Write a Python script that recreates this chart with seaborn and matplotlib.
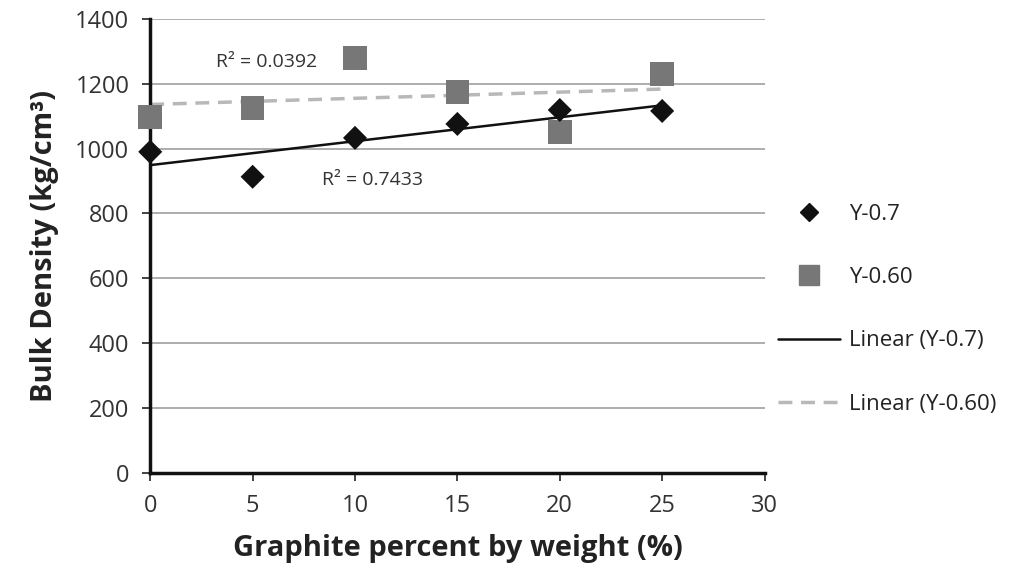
import numpy as np
import pandas as pd
import seaborn as sns
import matplotlib.pyplot as plt
from matplotlib.lines import Line2D

# graphite content (%) and bulk density readings for the two mixes
graphite = [0, 5, 10, 15, 20, 25]
density_y07 = [990, 913, 1033, 1076, 1119, 1116]
density_y060 = [1098, 1125, 1280, 1175, 1051, 1230]
# R² labels as printed on the original chart
r2_labels = {"Y-0.7": "R² = 0.7433", "Y-0.60": "R² = 0.0392"}

sns.set_theme(style="white")
plt.rcParams["font.family"] = ["Open Sans", "DejaVu Sans"]

df = pd.DataFrame({
    "graphite": graphite * 2,
    "density": density_y07 + density_y060,
    "series": ["Y-0.7"] * len(graphite) + ["Y-0.60"] * len(graphite),
})

fig = plt.figure(figsize=(10.29, 5.73), dpi=100)
ax = fig.add_axes([0.146, 0.175, 0.597, 0.792])

for y in range(200, 1401, 200):
    ax.axhline(y, color="#a0a0a0", lw=1.2, zorder=0)

# linear trend lines
fit07 = np.polyval(np.polyfit(graphite, density_y07, 1), graphite)
fit060 = np.polyval(np.polyfit(graphite, density_y060, 1), graphite)

sns.lineplot(x=graphite, y=fit060, ax=ax, color="#b8b8b8", lw=2.5,
             linestyle=(0, (4, 2.5)), zorder=2)
sns.lineplot(x=graphite, y=fit07, ax=ax, color="#111111", lw=1.8, zorder=2)

sns.scatterplot(data=df[df.series == "Y-0.60"], x="graphite", y="density",
                marker="s", s=290, color="#777777", edgecolor="none", ax=ax, zorder=3)
sns.scatterplot(data=df[df.series == "Y-0.7"], x="graphite", y="density",
                marker="D", s=150, color="#111111", edgecolor="none", ax=ax, zorder=4)
for coll in ax.collections:
    coll.set_clip_on(False)

ax.text(3.2, 1268, r2_labels["Y-0.60"], fontsize=14, color="#333333", va="center")
ax.text(8.4, 903, r2_labels["Y-0.7"], fontsize=14, color="#333333", va="center")

ax.set_xlim(0, 30)
ax.set_ylim(0, 1400)
ax.set_xticks(range(0, 31, 5))
ax.set_yticks(range(0, 1401, 200))
ax.tick_params(axis="both", labelsize=17, colors="#222222", length=6, width=1.2,
               direction="out", bottom=True, left=True, pad=9)
ax.tick_params(axis="both", labelcolor="#333333")
for s in ["top", "right"]:
    ax.spines[s].set_visible(False)
for s in ["left", "bottom"]:
    ax.spines[s].set_color("#111111")
    ax.spines[s].set_linewidth(2.5)
ax.set_xlabel("Graphite percent by weight (%)", fontsize=21, fontweight="bold",
              color="#222222", labelpad=12)
ax.set_ylabel("Bulk Density (kg/cm³)", fontsize=21, fontweight="bold",
              color="#222222", labelpad=12)

handles = [
    Line2D([], [], marker="D", color="#111111", ls="none", markersize=9),
    Line2D([], [], marker="s", color="#777777", ls="none", markersize=14),
    Line2D([], [], color="#111111", lw=1.8),
    Line2D([], [], color="#b8b8b8", lw=2.5, ls=(0, (4, 2.5))),
]
labels = ["Y-0.7", "Y-0.60", "Linear (Y-0.7)", "Linear (Y-0.60)"]
ax.legend(handles, labels, loc="center left", bbox_to_anchor=(1.0, 0.36),
          frameon=False, fontsize=16, labelspacing=1.9, handlelength=2.8,
          handletextpad=0.4, labelcolor="#222222", borderaxespad=0.2)

fig.savefig("out.png", dpi=100)
